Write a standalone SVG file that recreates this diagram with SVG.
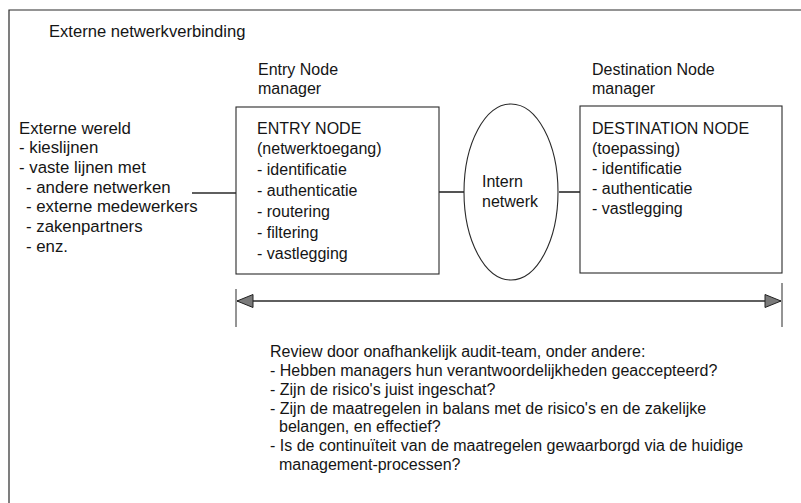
<svg xmlns="http://www.w3.org/2000/svg" width="801" height="503" viewBox="0 0 801 503">
  <style>
    text { font-family: "Liberation Sans", Arial, sans-serif; font-size: 16px; fill: #151515; }
    .title { font-size: 16.6px; }
    .side { font-size: 16.8px; }
    .frame { fill: none; stroke: #2a2a2a; stroke-width: 1.2; }
    .box { fill: #ffffff; stroke: #2a2a2a; stroke-width: 1.1; }
    .link { fill: none; stroke: #2a2a2a; stroke-width: 1.6; }
    .tick { fill: none; stroke: #2a2a2a; stroke-width: 1; }
  </style>
  <defs>
    <marker id="head" viewBox="0 0 18 16" refX="17" refY="8" markerWidth="18" markerHeight="16" markerUnits="userSpaceOnUse" orient="auto-start-reverse">
      <path d="M1,1.5 L17,8 L1,14.5 Z" fill="#7a7a7a" stroke="#222" stroke-width="1"/>
    </marker>
  </defs>
  <rect width="801" height="503" fill="#ffffff"/>

  <!-- outer frame: top and left edges only -->
  <path class="frame" d="M9,503 L9,10 L801,10"/>
  <text class="title" x="49" y="37">Externe netwerkverbinding</text>

  <!-- connectors -->
  <g id="connectors">
    <line class="link" x1="192" y1="193" x2="236" y2="193"/>
    <line class="link" x1="439" y1="192" x2="464" y2="192"/>
    <line class="link" x1="559" y1="192" x2="580" y2="192"/>
    <line class="tick" x1="236" y1="289" x2="236" y2="327"/>
    <line class="tick" x1="782" y1="283" x2="782" y2="327"/>
    <line class="link" x1="237" y1="301" x2="781" y2="301" marker-start="url(#head)" marker-end="url(#head)"/>
  </g>

  <g id="externe-wereld" class="side">
    <text class="side" x="19" y="134">Externe wereld</text>
    <text class="side" x="19" y="153">- kieslijnen</text>
    <text class="side" x="19" y="173">- vaste lijnen met</text>
    <text class="side" x="26" y="193">- andere netwerken</text>
    <text class="side" x="26" y="212">- externe medewerkers</text>
    <text class="side" x="26" y="232">- zakenpartners</text>
    <text class="side" x="26" y="252">- enz.</text>
  </g>

  <g id="entry-node">
    <text x="258" y="75">Entry Node</text>
    <text x="258" y="94">manager</text>
    <rect class="box" x="236" y="107" width="203" height="167"/>
    <text x="257" y="134">ENTRY NODE</text>
    <text x="257" y="154">(netwerktoegang)</text>
    <text x="257" y="175">- identificatie</text>
    <text x="257" y="196">- authenticatie</text>
    <text x="257" y="217">- routering</text>
    <text x="257" y="238">- filtering</text>
    <text x="257" y="259">- vastlegging</text>
  </g>

  <g id="intern-netwerk">
    <ellipse class="box" cx="511" cy="192" rx="47" ry="88"/>
    <text x="482" y="187">Intern</text>
    <text x="482" y="207">netwerk</text>
  </g>

  <g id="destination-node">
    <text x="592" y="75">Destination Node</text>
    <text x="592" y="94">manager</text>
    <rect class="box" x="580" y="106" width="202" height="167"/>
    <text x="592" y="134">DESTINATION NODE</text>
    <text x="592" y="154">(toepassing)</text>
    <text x="592" y="174">- identificatie</text>
    <text x="592" y="194">- authenticatie</text>
    <text x="592" y="214">- vastlegging</text>
  </g>

  <g id="review">
    <text x="270" y="357">Review door onafhankelijk audit-team, onder andere:</text>
    <text x="270" y="376">- Hebben managers hun verantwoordelijkheden geaccepteerd?</text>
    <text x="270" y="395">- Zijn de risico's juist ingeschat?</text>
    <text x="270" y="414">- Zijn de maatregelen in balans met de risico's en de zakelijke</text>
    <text x="279" y="432">belangen, en effectief?</text>
    <text x="270" y="451">- Is de continuïteit van de maatregelen gewaarborgd via de huidige</text>
    <text x="279" y="470">management-processen?</text>
  </g>
</svg>
